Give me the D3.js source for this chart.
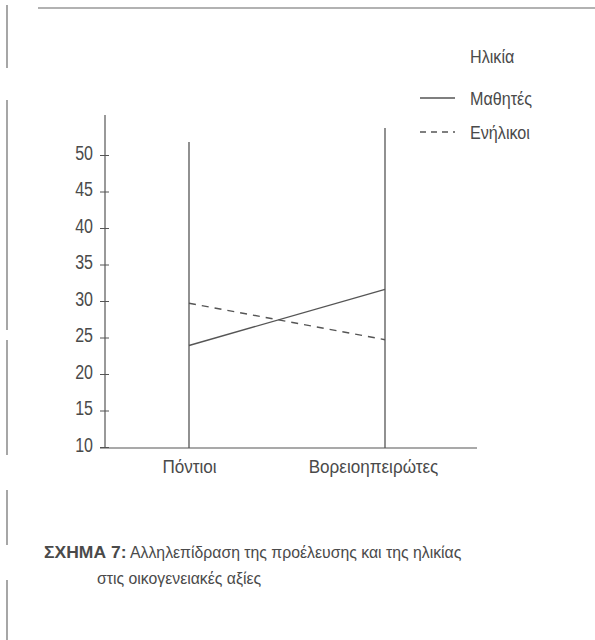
<!DOCTYPE html>
<html><head><meta charset="utf-8">
<script src="https://cdn.jsdelivr.net/npm/d3@7"></script>
<style>
body{margin:0;background:#fff;}
text{font-family:"Liberation Sans",Arial,sans-serif;fill:#4a4a4a;}
</style></head>
<body>
<svg id="c" width="595" height="640"></svg>
<script>
const categories = ["Πόντιοι", "Βορειοηπειρώτες"];
const seriesNames = ["Μαθητές", "Ενήλικοι"];
const studentsValues = [23.9, 31.6];
const adultsValues = [29.7, 24.7];
const yTicks = [10, 15, 20, 25, 30, 35, 40, 45, 50];
const legendTitle = "Ηλικία";
const captionLabel = "ΣΧΗΜΑ 7:";
const captionLine1 = "Αλληλεπίδραση της προέλευσης και της ηλικίας";
const captionLine2 = "στις οικογενειακές αξίες";

const svg = d3.select("#c");
const ink = "#555";

// condensed text helper
function ctext(parent, x, y, str, size, sx, anchor, weight, fill){
  return parent.append("g").attr("transform",`translate(${x},${y}) scale(${sx},1)`)
    .append("text").attr("x",0).attr("y",0).attr("font-size",size)
    .attr("text-anchor",anchor||"start").attr("font-weight",weight||"normal")
    .attr("fill",fill||"#4a4a4a").text(str);
}

// scan frame decorations
svg.append("line").attr("x1",38).attr("x2",595).attr("y1",8).attr("y2",8).attr("stroke","#666").attr("stroke-width",1.2);
[[5,68],[100,330],[340,455],[490,545],[580,640]].forEach(s=>{
  svg.append("line").attr("x1",7).attr("x2",7).attr("y1",s[0]).attr("y2",s[1]).attr("stroke","#777").attr("stroke-width",1.3);
});

const y = d3.scaleLinear().domain([10,50]).range([447,155]);
const x = d3.scalePoint().domain(categories).range([189,385]);

// y axis
const ySx = 0.8;
const yAxis = svg.append("g").attr("transform","translate(105,0)")
  .call(d3.axisLeft(y).tickValues(yTicks).tickSize(5).tickPadding(7));
yAxis.select(".domain").remove();
yAxis.append("line").attr("x1",0).attr("x2",0).attr("y1",115).attr("y2",448).attr("stroke",ink).attr("stroke-width",1.2);
yAxis.selectAll(".tick line").attr("stroke",ink).attr("x2",-5).clone().attr("x2",4);
yAxis.selectAll(".tick text").attr("font-size",20).attr("dy","0.2em")
  .attr("x",-12/ySx).attr("transform",`scale(${ySx},1)`)
  .style("font-family",'"Liberation Sans",Arial,sans-serif').attr("fill","#4a4a4a");

// x axis
const xSx = 0.9;
const xAxis = svg.append("g").attr("transform","translate(0,448)")
  .call(d3.axisBottom(x).tickSize(0).tickPadding(12));
xAxis.select(".domain").remove();
xAxis.append("line").attr("x1",100).attr("x2",477).attr("y1",0).attr("y2",0).attr("stroke",ink).attr("stroke-width",1.2);
xAxis.selectAll(".tick text").attr("font-size",19).attr("dy","0.71em")
  .attr("transform",`scale(${xSx},1)`)
  .attr("dx",(d,i)=>i===1?(-12/xSx):0)
  .style("font-family",'"Liberation Sans",Arial,sans-serif').attr("fill","#4a4a4a");

// category vertical reference lines
const tops = [142, 128];
svg.selectAll(".vref").data(categories).enter().append("line")
  .attr("x1",d=>x(d)).attr("x2",d=>x(d))
  .attr("y1",(d,i)=>tops[i]).attr("y2",448)
  .attr("stroke",ink).attr("stroke-width",1.3);

// series lines
const line = d3.line().x(d=>x(d.c)).y(d=>y(d.v));
const seriesData = [
  {name:seriesNames[0], values:studentsValues, dash:null},
  {name:seriesNames[1], values:adultsValues, dash:"7,6"}
];
seriesData.forEach(s=>{
  svg.append("path")
    .datum(categories.map((c,i)=>({c, v:s.values[i]})))
    .attr("d",line).attr("fill","none").attr("stroke",ink).attr("stroke-width",1.4)
    .attr("stroke-dasharray",s.dash);
});

// legend
const lg = svg.append("g");
ctext(lg, 470, 63, legendTitle, 19, 0.85);
seriesData.forEach((s,i)=>{
  const yy = 98 + i*34;
  lg.append("line").attr("x1",420).attr("x2",455).attr("y1",yy).attr("y2",yy)
    .attr("stroke",ink).attr("stroke-width",1.4).attr("stroke-dasharray",s.dash?"6,5":null);
  ctext(lg, 470, yy+7, s.name, 19, 0.85);
});

// caption
ctext(svg, 44, 558, captionLabel, 17, 1.03, "start", "bold", "#3a3a3a");
ctext(svg, 130, 558, captionLine1, 17, 0.93);
ctext(svg, 97, 584, captionLine2, 17, 0.93);
</script>
</body></html>
